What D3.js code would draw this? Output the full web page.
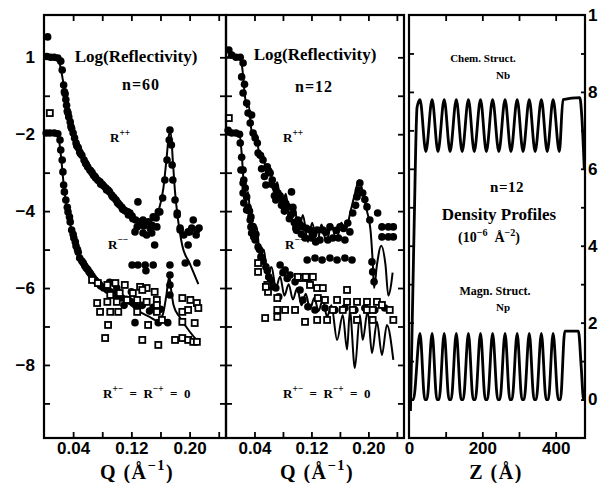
<!DOCTYPE html>
<html>
<head>
<meta charset="utf-8">
<script src="https://cdnjs.cloudflare.com/ajax/libs/d3/7.8.5/d3.min.js"></script>
<style>
    body { margin: 0; background: #fff; }
    svg { display: block; }
    text { font-family: "Liberation Serif", serif; font-weight: bold; fill: #000; }
    .num text { font-family: "Liberation Sans", sans-serif; font-weight: bold; font-size: 17px; }
</style>
</head>
<body>
<svg id="chart" width="601" height="483"></svg>
<script>

// ticks and tick labels
const qTicks = [0.04, 0.08, 0.12, 0.16, 0.20, 0.24];
const qLabelTicks = [0.04, 0.12, 0.20];
const qLabels = ["0.04", "0.12", "0.20"];
const logMinorTicks = [-9, -8, -7, -6, -5, -4, -3, -2, -1, 0];
const logLabelTicks = [0, -2, -4, -6, -8];
const logLabels = ["1", "−2", "−4", "−6", "−8"];
const zTicks = [100, 200, 300, 400];
const zLabelTicks = [0, 200, 400];
const zLabels = ["0", "200", "400"];
const rhoMinorTicks = [0, 1, 2, 3, 4, 5, 6, 7, 8, 9];
const rhoLabelTicks = [0, 2, 4, 6, 8, 10];
const rhoLabels = ["0", "2", "4", "6", "8", "1"];

// n=60 : [Q, log R]
const n60PlusPlus = [
    [0.005, 0.53], [0.004, 0.02], [0.009, 0.0], [0.014, 0.0], [0.019, -0.02], [0.023, -0.1],
    [0.025, -0.33], [0.027, -0.72], [0.028, -0.9], [0.030, -1.1], [0.031, -1.25], [0.033, -1.45],
    [0.034, -1.55], [0.036, -1.68], [0.038, -1.85], [0.040, -1.97], [0.042, -2.1], [0.044, -2.23],
    [0.047, -2.35], [0.049, -2.46], [0.052, -2.55], [0.055, -2.67], [0.058, -2.78], [0.060, -2.85],
    [0.063, -2.93], [0.066, -3.0], [0.068, -3.07], [0.071, -3.14], [0.074, -3.2], [0.077, -3.24],
    [0.080, -3.3], [0.082, -3.35], [0.085, -3.4], [0.088, -3.45], [0.090, -3.5], [0.093, -3.58],
    [0.096, -3.65], [0.099, -3.71], [0.102, -3.8], [0.104, -3.84], [0.107, -3.9], [0.110, -3.97],
    [0.112, -4.0], [0.115, -4.02], [0.121, -4.13], [0.126, -4.23], [0.132, -4.28], [0.137, -4.39],
    [0.143, -4.28], [0.148, -4.36], [0.154, -4.18], [0.159, -4.02], [0.163, -3.66], [0.166, -3.19],
    [0.169, -2.67], [0.172, -2.15], [0.173, -1.89], [0.175, -2.28], [0.176, -2.8], [0.177, -3.19],
    [0.180, -3.71], [0.183, -4.1], [0.187, -4.44], [0.192, -4.62], [0.198, -4.54], [0.203, -4.44],
    [0.209, -4.62], [0.213, -4.44],
    [0.129, -3.76], [0.118, -4.05], [0.136, -4.23], [0.150, -4.15], [0.155, -4.41], [0.128, -4.41],
    [0.157, -4.02], [0.183, -4.05], [0.205, -4.23], [0.210, -4.49], [0.187, -4.49], [0.125, -4.54],
    [0.141, -4.62], [0.200, -4.54],
    [0.029, -0.95], [0.032, -1.4], [0.037, -1.8], [0.045, -2.3], [0.050, -2.5], [0.057, -2.75],
    [0.064, -2.95], [0.070, -3.1], [0.078, -3.3], [0.086, -3.45], [0.094, -3.62], [0.101, -3.78],
    [0.108, -3.95], [0.116, -4.1], [0.122, -4.2], [0.134, -4.35], [0.146, -4.45]
];

const n60MinusMinus = [
    [0.003, -1.97], [0.008, -1.97], [0.014, -1.97], [0.019, -1.99], [0.022, -2.15], [0.023, -2.41],
    [0.025, -2.67], [0.026, -2.98], [0.027, -3.32], [0.028, -3.5], [0.030, -3.71], [0.032, -3.9],
    [0.033, -4.02], [0.035, -4.15], [0.036, -4.28], [0.038, -4.49], [0.040, -4.6], [0.041, -4.7],
    [0.043, -4.8], [0.044, -4.91], [0.046, -5.0], [0.047, -5.07], [0.049, -5.22], [0.052, -5.3],
    [0.054, -5.35], [0.056, -5.42], [0.058, -5.48], [0.060, -5.52], [0.062, -5.58], [0.064, -5.63],
    [0.066, -5.69], [0.068, -5.75], [0.070, -5.79], [0.072, -5.83], [0.074, -5.87], [0.076, -5.9],
    [0.078, -5.95], [0.082, -6.0], [0.087, -6.05], [0.091, -6.1], [0.096, -6.16], [0.102, -6.21],
    [0.107, -6.26], [0.113, -6.29], [0.118, -6.34], [0.124, -6.39],
    [0.152, -4.88], [0.136, -4.57], [0.148, -4.57], [0.121, -5.4], [0.129, -5.4], [0.139, -5.4],
    [0.150, -5.4], [0.173, -5.4], [0.173, -5.66], [0.173, -5.92], [0.173, -6.18], [0.198, -4.88],
    [0.210, -5.35], [0.194, -5.35], [0.157, -6.9], [0.125, -6.9], [0.170, -6.9], [0.140, -5.55],
    [0.128, -6.5], [0.110, -6.45], [0.145, -6.6], [0.090, -5.85], [0.100, -6.0], [0.120, -6.1],
    [0.135, -6.45], [0.150, -6.5], [0.160, -6.55]
];

const n60SpinFlip = [
    [0.008, -1.45], [0.066, -5.79], [0.074, -5.87], [0.087, -5.92], [0.098, -5.87], [0.111, -5.92],
    [0.132, -5.97], [0.141, -6.0], [0.152, -6.1], [0.073, -6.39], [0.087, -6.36], [0.100, -6.36],
    [0.114, -6.31], [0.128, -6.31], [0.141, -6.36], [0.155, -6.31], [0.190, -6.26], [0.201, -6.31],
    [0.210, -6.39], [0.077, -6.62], [0.091, -6.62], [0.102, -6.62], [0.128, -6.62], [0.155, -6.62],
    [0.155, -6.44], [0.190, -6.62], [0.198, -6.57], [0.212, -6.52], [0.088, -6.96], [0.143, -6.96],
    [0.162, -6.83], [0.190, -6.88], [0.207, -6.91], [0.084, -7.3], [0.135, -7.35], [0.157, -7.48],
    [0.180, -7.35], [0.190, -7.3], [0.198, -7.35], [0.205, -7.4], [0.210, -7.4], [0.135, -6.05],
    [0.122, -6.13], [0.104, -6.13], [0.091, -6.18]
];

const n60FitPlus = [
    [0.0, 0.0], [0.018, 0.0], [0.022, -0.2], [0.026, -0.6], [0.030, -1.1], [0.036, -1.65],
    [0.044, -2.2], [0.055, -2.65], [0.066, -3.0], [0.077, -3.25], [0.088, -3.45], [0.100, -3.72],
    [0.110, -3.95], [0.120, -4.12], [0.130, -4.25], [0.140, -4.3], [0.150, -4.22], [0.158, -3.95],
    [0.164, -3.4], [0.168, -2.7], [0.172, -2.0], [0.174, -1.95], [0.177, -2.7], [0.180, -3.5],
    [0.184, -4.2], [0.190, -4.9], [0.200, -5.35], [0.212, -5.9]
];

const n60FitMinus = [
    [0.0, -2.0], [0.018, -2.0], [0.021, -2.2], [0.024, -2.7], [0.027, -3.3], [0.030, -3.75],
    [0.035, -4.25], [0.040, -4.65], [0.047, -5.05], [0.055, -5.4], [0.065, -5.7], [0.075, -5.9],
    [0.085, -6.05], [0.100, -6.2], [0.115, -6.38], [0.130, -6.6], [0.145, -6.75], [0.155, -6.85],
    [0.163, -6.7], [0.168, -6.2], [0.172, -5.7], [0.175, -6.1], [0.178, -6.45], [0.186, -6.75],
    [0.195, -7.0], [0.205, -7.25], [0.212, -7.4]
];

// n=12 : [Q, log R]
const n12PlusPlus = [
    [0.004, 0.19], [0.008, 0.06], [0.014, 0.0], [0.020, 0.0], [0.024, -0.15], [0.022, -0.51],
    [0.026, -0.7], [0.024, -0.93], [0.029, -1.19], [0.031, -1.45], [0.036, -1.5], [0.034, -1.71],
    [0.038, -1.97], [0.041, -2.1], [0.044, -2.23], [0.045, -2.49], [0.048, -2.55], [0.052, -2.67],
    [0.058, -2.85], [0.060, -2.95], [0.062, -3.01], [0.065, -3.19], [0.056, -3.32], [0.069, -3.37],
    [0.073, -3.53], [0.076, -3.6], [0.070, -3.71], [0.080, -3.71], [0.084, -3.8], [0.087, -3.89],
    [0.092, -3.5], [0.094, -3.9], [0.096, -4.3], [0.099, -4.5], [0.091, -4.1], [0.094, -4.05],
    [0.098, -4.44], [0.101, -4.23], [0.104, -4.35], [0.108, -4.41], [0.111, -4.7], [0.113, -4.45],
    [0.118, -4.49], [0.123, -4.6], [0.128, -4.49], [0.132, -4.75], [0.136, -4.49], [0.140, -4.55],
    [0.146, -4.41], [0.150, -4.7], [0.155, -4.5], [0.160, -4.41], [0.165, -4.45], [0.167, -4.75],
    [0.171, -4.31], [0.174, -4.54], [0.178, -4.05], [0.182, -3.85], [0.184, -3.63], [0.186, -3.45],
    [0.188, -3.27], [0.192, -3.53], [0.195, -3.7], [0.198, -3.89], [0.202, -4.23], [0.213, -4.05],
    [0.219, -4.41], [0.228, -4.41], [0.235, -4.41], [0.219, -4.67], [0.228, -4.67], [0.235, -4.67],
    [0.050, -2.9], [0.054, -3.1], [0.064, -3.3], [0.068, -3.6], [0.078, -3.85], [0.082, -4.0],
    [0.089, -4.2], [0.106, -4.6], [0.120, -4.7], [0.126, -4.8], [0.143, -4.75], [0.158, -4.7]
];

const n12MinusMinus = [
    [0.003, -1.9], [0.008, -1.97], [0.014, -1.97], [0.019, -2.0], [0.020, -2.23], [0.022, -2.6],
    [0.024, -2.93], [0.024, -3.27], [0.029, -3.63], [0.029, -3.97], [0.034, -4.23], [0.036, -4.57],
    [0.041, -4.75], [0.021, -2.93], [0.025, -3.19], [0.024, -3.53], [0.025, -3.79], [0.035, -4.15],
    [0.035, -4.41], [0.039, -4.67], [0.045, -4.93], [0.049, -5.19], [0.056, -5.45], [0.060, -5.71],
    [0.067, -5.97], [0.074, -6.23], [0.076, -5.4], [0.083, -5.53], [0.090, -5.66], [0.097, -5.84],
    [0.104, -6.05], [0.108, -6.31], [0.115, -6.49], [0.125, -6.57], [0.139, -6.52], [0.153, -6.57],
    [0.167, -6.52], [0.181, -6.57], [0.195, -6.52], [0.209, -6.57], [0.223, -6.52],
    [0.114, -5.27], [0.125, -5.22], [0.135, -5.27], [0.146, -5.22], [0.156, -5.27], [0.167, -5.22],
    [0.177, -5.27], [0.205, -5.32], [0.206, -5.58], [0.208, -5.84],
    [0.027, -3.4], [0.031, -3.9], [0.033, -4.0], [0.038, -4.4], [0.042, -4.6], [0.047, -5.0],
    [0.052, -5.3], [0.058, -5.55], [0.063, -5.8], [0.070, -6.0], [0.080, -5.6], [0.086, -5.75]
];

const n12SpinFlip = [
    [0.004, -1.58], [0.045, -5.58], [0.045, -5.35], [0.058, -5.92], [0.059, -6.1], [0.072, -6.26],
    [0.072, -6.57], [0.055, -6.78], [0.072, -6.75], [0.083, -6.57], [0.097, -6.57], [0.104, -5.74],
    [0.115, -5.74], [0.118, -5.92], [0.128, -6.0], [0.136, -6.0], [0.129, -6.26], [0.139, -6.31],
    [0.111, -6.88], [0.128, -6.83], [0.170, -6.05], [0.170, -6.36], [0.184, -6.36], [0.198, -6.36],
    [0.212, -6.36], [0.219, -6.44], [0.230, -6.57], [0.142, -6.83], [0.184, -6.83], [0.206, -6.83],
    [0.235, -6.83], [0.150, -6.57], [0.164, -6.57], [0.178, -6.57], [0.198, -6.57], [0.206, -6.57],
    [0.156, -6.31], [0.056, -5.97], [0.101, -5.71], [0.112, -5.71], [0.122, -5.71]
];

const n12FitPlus = [
    [0.0, 0.0], [0.020, 0.0], [0.023, -0.3], [0.026, -0.9], [0.029, -1.3], [0.032, -1.25],
    [0.035, -1.8], [0.039, -2.15], [0.043, -2.0], [0.047, -2.6], [0.052, -2.5], [0.057, -3.1],
    [0.062, -2.9], [0.067, -3.5], [0.072, -3.25], [0.078, -3.9], [0.084, -3.55], [0.090, -4.25],
    [0.096, -3.85], [0.102, -4.55], [0.108, -4.1], [0.115, -4.8], [0.121, -4.3], [0.128, -4.85],
    [0.134, -4.35], [0.141, -4.8], [0.148, -4.35], [0.155, -4.75], [0.162, -4.3], [0.168, -4.5],
    [0.175, -4.0], [0.181, -3.55], [0.187, -3.2], [0.192, -3.5], [0.198, -4.0], [0.203, -4.5],
    [0.206, -5.3], [0.208, -6.0], [0.212, -5.4], [0.218, -4.9], [0.224, -5.4], [0.228, -6.2],
    [0.232, -5.9], [0.234, -5.6]
];

const n12FitMinus = [
    [0.0, -2.0], [0.019, -2.0], [0.022, -2.5], [0.025, -3.3], [0.028, -3.7], [0.031, -3.5],
    [0.035, -4.4], [0.039, -4.6], [0.043, -4.4], [0.048, -5.2], [0.053, -5.0], [0.058, -5.6],
    [0.064, -5.45], [0.070, -6.0], [0.076, -5.7], [0.082, -6.2], [0.088, -5.9], [0.094, -6.3],
    [0.100, -6.0], [0.106, -6.45], [0.112, -6.15], [0.118, -6.55], [0.124, -6.25], [0.130, -6.6],
    [0.136, -6.3], [0.142, -6.75], [0.148, -6.45], [0.156, -7.35], [0.164, -6.7], [0.170, -7.6],
    [0.174, -6.6], [0.181, -8.08], [0.188, -6.7], [0.192, -7.35], [0.199, -6.6], [0.205, -7.69],
    [0.212, -6.88], [0.219, -7.74], [0.226, -6.96], [0.235, -7.87]
];

// density profiles : [Z, rho]
const nbProfile = [
    [4, -0.3], [14, 4.5], [22, 7.6], [30, 7.8], [46, 6.45], [63, 7.8], [79, 6.45], [96, 7.8],
    [112, 6.45], [129, 7.8], [145, 6.45], [162, 7.8], [178, 6.45], [195, 7.8], [211, 6.45],
    [228, 7.8], [245, 6.45], [262, 7.8], [278, 6.45], [295, 7.8], [311, 6.45], [328, 7.8],
    [344, 6.45], [361, 7.8], [377, 6.45], [393, 7.8], [410, 6.45], [420, 7.8], [466, 7.85],
    [471, 7.4], [478, 6.0]
];

const npProfile = [
    [0, 0], [12, 0], [30, 1.72], [43, 0], [49, 0], [63, 1.72], [76, 0], [82, 0], [96, 1.72],
    [109, 0], [115, 0], [129, 1.72], [142, 0], [148, 0], [162, 1.72], [175, 0], [181, 0],
    [195, 1.72], [208, 0], [214, 0], [228, 1.72], [242, 0], [248, 0], [262, 1.72], [275, 0],
    [281, 0], [295, 1.72], [308, 0], [314, 0], [328, 1.72], [341, 0], [347, 0], [361, 1.72],
    [374, 0], [380, 0], [393, 1.72], [407, 0], [413, 0], [425, 1.78], [462, 1.78], [470, 0.8],
    [476, 0], [480, 0]
];

const plotTop = 15;
const plotBottom = 438;

const svg = d3.select("#chart");

const yLog = d3.scaleLinear().domain([-9.9, 1.1]).range([plotBottom, plotTop]);
const yRho = d3.scaleLinear().domain([-1.0, 10]).range([plotBottom, plotTop]);
const xQ60 = d3.scaleLinear().domain([0, 0.25]).range([44, 226]);
const xQ12 = d3.scaleLinear().domain([0, 0.25]).range([226, 404]);
const xZ = d3.scaleLinear().domain([0, 480]).range([409, 585]);

//draws a tick-only axis, without the domain path
const tickAxis = (axis, tx, ty) => {
    svg.append("g")
        .attr("transform", `translate(${tx},${ty})`)
        .call(axis.tickFormat(""))
        .call(g => g.select(".domain").remove())
        .call(g => g.selectAll("line").attr("stroke", "#000").attr("stroke-width", 1.8));
}

//draws an axis that only carries labels
const labelAxis = (axis, tx, ty) => {
    svg.append("g")
        .attr("class", "num")
        .attr("transform", `translate(${tx},${ty})`)
        .call(axis.tickSize(0))
        .call(g => g.select(".domain").remove())
        .attr("font-family", null)
        .attr("font-size", null);
}

//writes a label, array pieces are superscripts
const writeText = (x, y, pieces, size, anchor = "middle", spacing = 0) => {
    const t = svg.append("text")
        .attr("x", x)
        .attr("y", y)
        .attr("font-size", size)
        .attr("letter-spacing", spacing)
        .attr("text-anchor", anchor);
    let shift = 0;
    pieces.forEach(p => {
        const sup = Array.isArray(p);
        const target = sup ? -size * 0.45 : 0;
        t.append("tspan")
            .attr("dy", target - shift)
            .attr("font-size", sup ? size * 0.72 : size)
            .text(sup ? p[0] : p);
        shift = target;
    });
}

//draws one reflectivity panel
const drawReflectivity = (x, plusPlus, minusMinus, spinFlip, fitPlus, fitMinus) => {

    const line = d3.line()
        .x(d => x(d[0]))
        .y(d => yLog(d[1]))
        .curve(d3.curveMonotoneX);

    svg.append("g")
        .selectAll("path")
        .data([fitPlus, fitMinus])
        .join("path")
        .attr("d", line)
        .attr("fill", "none")
        .attr("stroke", "#000")
        .attr("stroke-width", 2);

    svg.append("g")
        .selectAll("circle")
        .data(plusPlus.concat(minusMinus))
        .join("circle")
        .attr("cx", d => x(d[0]))
        .attr("cy", d => yLog(d[1]))
        .attr("r", 3.8)
        .attr("fill", "#000");

    svg.append("g")
        .selectAll("rect")
        .data(spinFlip)
        .join("rect")
        .attr("x", d => x(d[0]) - 3)
        .attr("y", d => yLog(d[1]) - 3)
        .attr("width", 6)
        .attr("height", 6)
        .attr("fill", "#fff")
        .attr("stroke", "#000")
        .attr("stroke-width", 1.8);

    tickAxis(d3.axisBottom(x).tickValues(qTicks).tickSize(6), 0, plotTop);
    tickAxis(d3.axisTop(x).tickValues(qTicks).tickSize(6), 0, plotBottom);
    tickAxis(d3.axisRight(yLog).tickValues(logMinorTicks).tickSize(6), x.range()[0], 0);
    tickAxis(d3.axisLeft(yLog).tickValues(logMinorTicks).tickSize(6), x.range()[1], 0);

    labelAxis(d3.axisBottom(x).tickValues(qLabelTicks).tickPadding(4).tickFormat((d, i) => qLabels[i]), 0, plotBottom);

    const mid = (x.range()[0] + x.range()[1]) / 2 + 2;
    writeText(mid, 479, ["Q\u00a0(Å", ["−1"], ")"], 20, "middle", 1.5);
}

//draws the density profile panel
const drawProfiles = () => {

    const line = d3.line()
        .x(d => xZ(d[0]))
        .y(d => yRho(d[1]))
        .curve(d3.curveMonotoneX);

    svg.append("g")
        .selectAll("path")
        .data([nbProfile, npProfile])
        .join("path")
        .attr("d", line)
        .attr("fill", "none")
        .attr("stroke", "#000")
        .attr("stroke-width", 2.8);

    tickAxis(d3.axisBottom(xZ).tickValues(zTicks).tickSize(6), 0, plotTop);
    tickAxis(d3.axisTop(xZ).tickValues(zTicks).tickSize(6), 0, plotBottom);
    tickAxis(d3.axisRight(yRho).tickValues(rhoMinorTicks).tickSize(5), 409, 0);
    tickAxis(d3.axisLeft(yRho).tickValues(rhoMinorTicks).tickSize(4), 585, 0);

    labelAxis(d3.axisBottom(xZ).tickValues(zLabelTicks).tickPadding(4).tickFormat((d, i) => zLabels[i]), 0, plotBottom);
    labelAxis(d3.axisRight(yRho).tickValues(rhoLabelTicks).tickPadding(3).tickFormat((d, i) => rhoLabels[i]), 585, 0);

    writeText(496, 479, ["Z\u00a0(Å)"], 20, "middle", 1.5);
}

drawReflectivity(xQ60, n60PlusPlus, n60MinusMinus, n60SpinFlip, n60FitPlus, n60FitMinus);
drawReflectivity(xQ12, n12PlusPlus, n12MinusMinus, n12SpinFlip, n12FitPlus, n12FitMinus);
drawProfiles();

labelAxis(d3.axisLeft(yLog).tickValues(logLabelTicks).tickPadding(9).tickFormat((d, i) => logLabels[i]), 44, 0);

// frames
svg.append("g")
    .selectAll("rect")
    .data([[44, 226], [226, 404], [409, 585]])
    .join("rect")
    .attr("x", d => d[0])
    .attr("y", plotTop)
    .attr("width", d => d[1] - d[0])
    .attr("height", plotBottom - plotTop)
    .attr("fill", "none")
    .attr("stroke", "#000")
    .attr("stroke-width", 2.2);

// annotations
const eq = "\u00a0\u00a0=\u00a0\u00a0";
writeText(136, 62, ["Log(Reflectivity)"], 17);
writeText(141, 90, ["n=60"], 16, "middle", 1);
writeText(110, 142, ["R", ["++"]], 13, "start");
writeText(108, 249, ["R", ["−−"]], 13, "start");
writeText(103, 398, ["R", ["+−"], eq + "R", ["−+"], eq + "0"], 13, "start");

writeText(315, 60, ["Log(Reflectivity)"], 17);
writeText(314, 92, ["n=12"], 16, "middle", 1);
writeText(283, 142, ["R", ["++"]], 13, "start");
writeText(285, 249, ["R", ["−−"]], 13, "start");
writeText(283, 398, ["R", ["+−"], eq + "R", ["−+"], eq + "0"], 13, "start");

writeText(483, 62, ["Chem. Struct."], 11);
writeText(503, 79, ["Nb"], 11);
writeText(507, 192, ["n=12"], 15, "middle", 0.5);
writeText(499, 220, ["Density Profiles"], 17);
writeText(489, 242, ["(10", ["−6"], "\u00a0\u00a0Å", ["−2"], ")"], 14);
writeText(495, 295, ["Magn. Struct."], 12);
writeText(503, 311, ["Np"], 11);

</script>
</body>
</html>
